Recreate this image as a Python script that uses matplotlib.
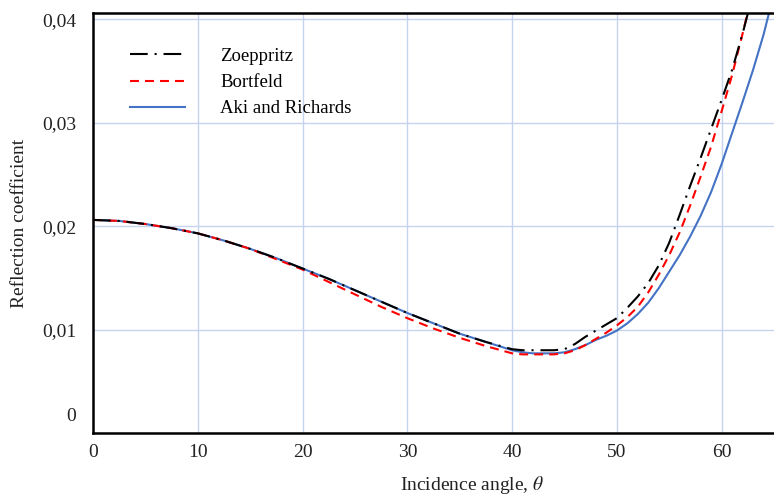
import matplotlib
matplotlib.use("Agg")
import matplotlib.pyplot as plt
from matplotlib.transforms import ScaledTranslation

plt.rcParams['font.family'] = ['Liberation Serif', 'DejaVu Serif']
plt.rcParams['mathtext.fontset'] = 'stix'

angles = [0, 2.5, 5, 7.5, 10, 12.5, 15, 17.5, 20, 22.5, 25, 27.5, 30, 32.5, 35, 37.5, 40,
          41, 42, 43, 44, 45, 46, 47, 48, 49, 50, 51, 52, 53, 54, 55, 56, 57, 58, 59, 60,
          61, 62, 63, 64, 65]

zoeppritz = [0.0206, 0.0205, 0.0202, 0.0198, 0.0193, 0.0186, 0.0178, 0.0169, 0.0159, 0.0149,
             0.0138, 0.0127, 0.0116, 0.0106, 0.0096, 0.0088, 0.0081,
             0.0080, 0.0080, 0.0080, 0.0080, 0.0081, 0.0086, 0.0093, 0.0099, 0.0105, 0.0111,
             0.0121, 0.0132, 0.0145, 0.0162, 0.0184, 0.0211, 0.0239, 0.0266, 0.0294, 0.0322,
             0.0351, 0.0386, 0.0425, 0.0465, 0.0505]
bortfeld = [0.0206, 0.0205, 0.0202, 0.0198, 0.0193, 0.0186, 0.0178, 0.0168, 0.0158, 0.0146,
            0.0134, 0.0122, 0.0111, 0.0101, 0.0092, 0.0084, 0.0077,
            0.0076, 0.0076, 0.0076, 0.0076, 0.0077, 0.0080, 0.0085, 0.0091, 0.0097, 0.0104,
            0.0112, 0.0122, 0.0136, 0.0153, 0.0172, 0.0194, 0.0220, 0.0248, 0.0277, 0.0311,
            0.0346, 0.0386, 0.0428, 0.0470, 0.0510]
aki_richards = [0.0206, 0.0205, 0.0202, 0.0198, 0.0193, 0.0186, 0.0178, 0.0169, 0.0159, 0.0149,
                0.0138, 0.0127, 0.0116, 0.0106, 0.0096, 0.0088, 0.0080,
                0.0078, 0.0077, 0.0077, 0.0077, 0.0078, 0.0081, 0.0085, 0.0090, 0.0094, 0.0099,
                0.0106, 0.0115, 0.0126, 0.0140, 0.0156, 0.0172, 0.0190, 0.0210, 0.0233, 0.0260,
                0.0290, 0.0320, 0.0351, 0.0385, 0.0425]

yticks = [0, 0.01, 0.02, 0.03, 0.04]
ytick_labels = ['0', '0,01', '0,02', '0,03', '0,04']
xticks = [0, 10, 20, 30, 40, 50, 60]

fig = plt.figure(figsize=(7.74, 4.97), dpi=100)
ax = fig.add_axes([0.1202, 0.1288, 0.8798, 0.845])

ax.plot(angles, zoeppritz, color='black', lw=1.5, linestyle=(0, (8.5, 3.3, 1, 3.3)),
        label='Zoeppritz', zorder=4)
ax.plot(angles, bortfeld, color='#ff0000', lw=1.5, linestyle=(0, (4.3, 2.9)),
        label='Bortfeld', zorder=3)
ax.plot(angles, aki_richards, color='#4472c4', lw=1.5, linestyle='-',
        label='Aki and Richards', zorder=2)

ax.set_xlim(0, 65)
ax.set_ylim(0, 0.0406)
ax.set_xticks(xticks)
ax.set_yticks(yticks)
ax.set_yticklabels(ytick_labels)
ax.tick_params(axis='both', length=0, labelsize=14, colors='#222222')
ax.tick_params(axis='y', pad=12)
ax.tick_params(axis='x', pad=8)

# the "0" label sits higher in the reference
lbl0 = ax.get_yticklabels()[0]
lbl0.set_transform(lbl0.get_transform() + ScaledTranslation(0, 18/100, fig.dpi_scale_trans))

ax.grid(True, color='#c5d3ef', lw=1.0)
ax.set_axisbelow(True)
for s in ['left', 'bottom', 'top']:
    ax.spines[s].set_color('black')
    ax.spines[s].set_linewidth(1.8)
ax.spines['right'].set_visible(False)

ax.set_xlabel('Incidence angle, $\\theta$', fontsize=14, color='#222222', labelpad=9, x=0.557)
ax.set_ylabel('Reflection coefficient', fontsize=14, color='#222222', labelpad=10)

leg = ax.legend(loc='upper left', bbox_to_anchor=(0.0545, 0.917), frameon=False, fontsize=13.5,
                handlelength=2.9, handletextpad=1.9, labelspacing=0.48,
                borderpad=0, borderaxespad=0)

fig.savefig('out.png', dpi=100)
